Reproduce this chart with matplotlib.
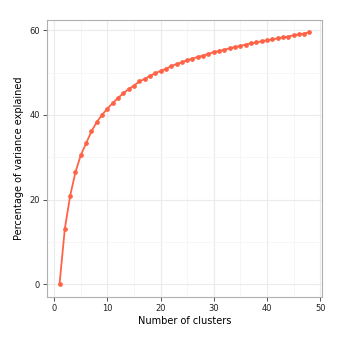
import matplotlib
matplotlib.use("Agg")
import matplotlib.pyplot as plt
import numpy as np

clusters = np.arange(1, 49)
pct_var = [0.0, 13.1, 20.9, 26.5, 30.5, 33.3, 36.1, 38.3, 40.0, 41.5,
           42.8, 44.0, 45.1, 46.1, 46.9, 47.9, 48.5, 49.2, 49.8, 50.4,
           50.9, 51.5, 52.0, 52.4, 52.9, 53.3, 53.7, 54.0, 54.4, 54.8,
           55.1, 55.4, 55.7, 56.0, 56.3, 56.6, 56.9, 57.1, 57.4, 57.6,
           57.8, 58.1, 58.3, 58.5, 58.8, 59.0, 59.2, 59.5]
x_ticks = [0, 10, 20, 30, 40, 50]
y_ticks = [0, 20, 40, 60]

fig = plt.figure(figsize=(3.42, 3.42), dpi=100)
ax = fig.add_axes([47/342, 1 - 297/342, 275/342, 277/342])

ax.plot(clusters, pct_var, color='#FF6347', lw=1.3, marker='o', ms=2.4,
        mec='#FF6347', zorder=3)

ax.set_xlim(-1.35, 50.35)
ax.set_ylim(-2.97, 62.4)
ax.set_xticks(x_ticks)
ax.set_yticks(y_ticks)
ax.set_xticks([5, 15, 25, 35, 45], minor=True)
ax.set_yticks([10, 30, 50], minor=True)
ax.grid(which='major', color='#EBEBEB', lw=0.8)
ax.grid(which='minor', color='#F5F5F5', lw=0.6)
ax.set_axisbelow(True)
for s in ax.spines.values():
    s.set_color('#B0B0B0')
    s.set_linewidth(0.8)
ax.tick_params(which='major', length=3, width=0.6, color='#333333',
               labelsize=6, labelcolor='#222222', pad=2)
ax.tick_params(which='minor', length=0)
ax.set_xlabel('Number of clusters', fontsize=7, labelpad=2)
ax.set_ylabel('Percentage of variance explained', fontsize=7, labelpad=4)

fig.savefig('out.png', dpi=100)
